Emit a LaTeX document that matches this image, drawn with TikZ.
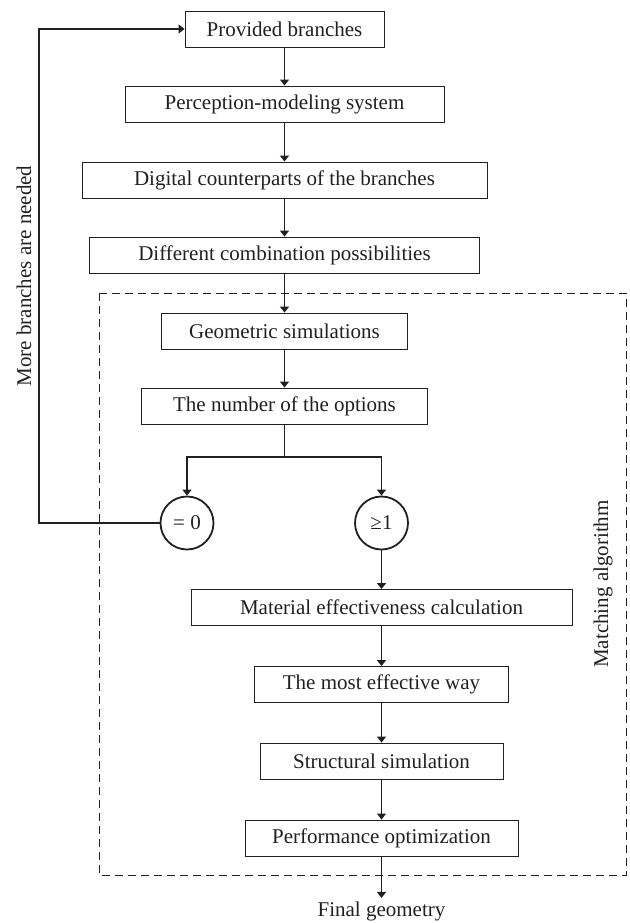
\documentclass[tikz,border=0pt]{standalone}
\usepackage{fontspec}
\setmainfont{Liberation Serif}
\usetikzlibrary{arrows.meta}
\definecolor{ink}{RGB}{35,31,32}

\begin{document}
\begin{tikzpicture}[x=1pt,y=-1pt,
    every node/.style={font=\fontsize{21}{24}\selectfont, text=ink},
    stage/.style={draw=ink, line width=0.9pt, minimum height=36pt, inner sep=0pt},
    count/.style={circle, draw=ink, line width=1.8pt, minimum size=53pt, inner sep=0pt},
    link/.style={draw=ink, line width=1.6pt},
    flow/.style={link, -{Triangle[width=9pt,length=6pt]}}]
        \useasboundingbox (0,0) rectangle (629,923);

        % upper chain
        \node[stage, minimum width=199pt] (prov) at (284.5,29) {Provided branches};
        \node[stage, minimum width=319pt] (perc) at (284.5,104) {Perception-modeling system};
        \node[stage, minimum width=405pt] (digi) at (284.5,180) {Digital counterparts of the branches};
        \node[stage, minimum width=390pt] (comb) at (284.5,255) {Different combination possibilities};

        % matching algorithm
        \draw[ink, line width=1pt, dash pattern=on 8pt off 5pt] (99,293) rectangle (626,875);
        \node[rotate=90] (matchlbl) at (603,584) {Matching algorithm};

        \node[stage, minimum width=246pt] (geom) at (284.5,331) {Geometric simulations};
        \node[stage, minimum width=286pt] (numb) at (284.5,406) {The number of the options};

        \node[count] (zero) at (187,523) {= 0};
        \node[count] (more) at (381.5,523) {≥1};

        \node[stage, minimum width=381pt] (matc) at (381.5,607.5) {Material effectiveness calculation};
        \node[stage, minimum width=254pt] (effw) at (381.5,684.5) {The most effective way};
        \node[stage, minimum width=243pt] (stru) at (381.5,761) {Structural simulation};
        \node[stage, minimum width=273pt] (perf) at (381.5,838) {Performance optimization};

        \node (final) at (381.5,911) {Final geometry};

        \coordinate (split) at (284.5,457);
        \coordinate (back) at (39,523);

        \draw[flow] (prov) -- (perc);
        \draw[flow] (perc) -- (digi);
        \draw[flow] (digi) -- (comb);
        \draw[flow] (comb) -- (geom);
        \draw[flow] (geom) -- (numb);
        \draw[link] (numb) -- (split);
        \draw[flow] (split) -| (zero);
        \draw[flow] (split) -| (more);
        \draw[flow] (zero) -- (back) |- (prov);
        \draw[flow] (more) -- (matc);
        \draw[flow] (matc) -- (effw);
        \draw[flow] (effw) -- (stru);
        \draw[flow] (stru) -- (perf);
        \draw[flow] (perf) -- (final);

        \node[rotate=90] (needlbl) at (24,276) {More branches are needed};
    \end{tikzpicture}
\end{document}
